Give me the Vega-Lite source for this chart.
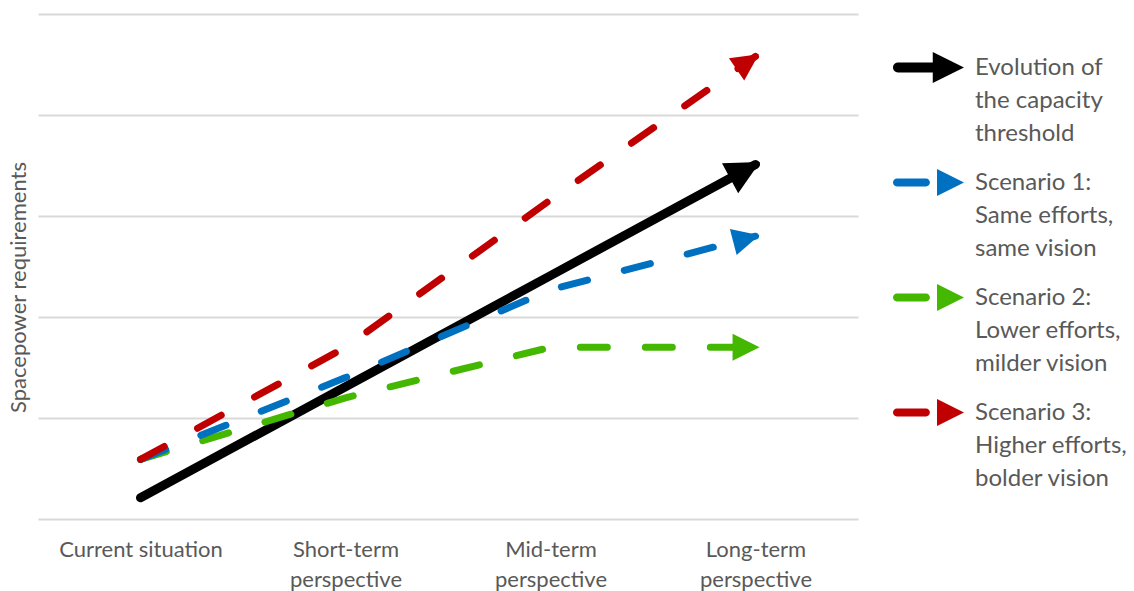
{
  "$schema": "https://vega.github.io/schema/vega-lite/v6.json",
  "width": 820,
  "height": 505,
  "autosize": {"type": "none"},
  "padding": {"left": 38, "top": 14, "right": 276, "bottom": 72},
  "background": "white",
  "config": {"view": {"stroke": null}, "font": "Lato"},
  "data": {
    "values": [
      {"series": "Evolution of the capacity threshold", "stage": "Current situation", "level": 0.21},
      {"series": "Evolution of the capacity threshold", "stage": "Short-term perspective", "level": 1.31},
      {"series": "Evolution of the capacity threshold", "stage": "Mid-term perspective", "level": 2.41},
      {"series": "Evolution of the capacity threshold", "stage": "Long-term perspective", "level": 3.51},
      {"series": "Scenario 2: Lower efforts, milder vision", "stage": "Current situation", "level": 0.59},
      {"series": "Scenario 2: Lower efforts, milder vision", "stage": "Short-term perspective", "level": 1.2},
      {"series": "Scenario 2: Lower efforts, milder vision", "stage": "Mid-term perspective", "level": 1.7},
      {"series": "Scenario 2: Lower efforts, milder vision", "stage": "Long-term perspective", "level": 1.7},
      {"series": "Scenario 1: Same efforts, same vision", "stage": "Current situation", "level": 0.59},
      {"series": "Scenario 1: Same efforts, same vision", "stage": "Short-term perspective", "level": 1.4},
      {"series": "Scenario 1: Same efforts, same vision", "stage": "Mid-term perspective", "level": 2.27},
      {"series": "Scenario 1: Same efforts, same vision", "stage": "Long-term perspective", "level": 2.8},
      {"series": "Scenario 3: Higher efforts, bolder vision", "stage": "Current situation", "level": 0.59},
      {"series": "Scenario 3: Higher efforts, bolder vision", "stage": "Short-term perspective", "level": 1.7},
      {"series": "Scenario 3: Higher efforts, bolder vision", "stage": "Mid-term perspective", "level": 3.16},
      {"series": "Scenario 3: Higher efforts, bolder vision", "stage": "Long-term perspective", "level": 4.58}
    ]
  },
  "encoding": {
    "x": {
      "field": "stage",
      "type": "ordinal",
      "sort": ["Current situation", "Short-term perspective", "Mid-term perspective", "Long-term perspective"],
      "scale": {"type": "point", "padding": 0.5},
      "axis": {
        "title": null,
        "domain": false,
        "ticks": false,
        "grid": false,
        "labelAngle": 0,
        "labelFont": "Lato",
        "labelFontSize": 22,
        "labelColor": "#595959",
        "labelPadding": 20,
        "labelBaseline": "top",
        "labelLineHeight": 30,
        "labelExpr": "datum.value == 'Current situation' ? datum.value : split(datum.value, ' ')"
      }
    },
    "y": {
      "field": "level",
      "type": "quantitative",
      "scale": {"domain": [0, 5], "nice": false, "zero": true},
      "axis": {
        "values": [0, 1, 2, 3, 4, 5],
        "labels": false,
        "ticks": false,
        "domain": false,
        "grid": true,
        "gridColor": "#D9D9D9",
        "gridWidth": 2,
        "title": "Spacepower requirements",
        "titleFont": "Lato",
        "titleFontSize": 22,
        "titleFontWeight": "normal",
        "titleColor": "#595959",
        "titleX": -20,
        "titleY": 273,
        "titleAngle": -90,
        "titleAlign": "center",
        "titleBaseline": "middle"
      }
    },
    "color": {
      "field": "series",
      "type": "nominal",
      "scale": {
        "domain": ["Evolution of the capacity threshold", "Scenario 1: Same efforts, same vision", "Scenario 2: Lower efforts, milder vision", "Scenario 3: Higher efforts, bolder vision"],
        "range": ["#000000", "#0070C0", "#44B700", "#C00000"]
      },
      "legend": null
    }
  },
  "layer": [
    {
      "transform": [{"filter": "datum.series == 'Evolution of the capacity threshold'"}],
      "mark": {"type": "line", "strokeWidth": 9, "strokeCap": "round"},
      "encoding": {
        "color": {
          "field": "series",
          "type": "nominal",
          "legend": {
            "orient": "none",
            "legendX": 855,
            "legendY": 18,
            "title": null,
            "symbolSize": 5041,
            "labelFont": "Lato",
            "labelFontSize": 24,
            "labelColor": "#595959",
            "labelLimit": 0,
            "labelOffset": 11,
            "rowPadding": 1,
            "labelExpr": "datum.label == 'Evolution of the capacity threshold' ? ['Evolution of', 'the capacity', 'threshold'] : datum.label == 'Scenario 1: Same efforts, same vision' ? ['Scenario 1:', 'Same efforts,', 'same vision'] : datum.label == 'Scenario 2: Lower efforts, milder vision' ? ['Scenario 2:', 'Lower efforts,', 'milder vision'] : ['Scenario 3:', 'Higher efforts,', 'bolder vision']",
            "encode": {
              "symbols": {
                "update": {
                  "shape": {"signal": "datum.value == 'Evolution of the capacity threshold' ? 'M -0.86 -0.14 L 0.15 -0.14 L 0.15 0.14 L -0.86 0.14 A 0.14 0.14 0 0 1 -0.86 -0.14 Z M 0.12 -0.44 L 1 0 L 0.12 0.44 Z' : 'M -0.89 -0.11 L -0.07 -0.11 A 0.11 0.11 0 0 1 -0.07 0.11 L -0.89 0.11 A 0.11 0.11 0 0 1 -0.89 -0.11 Z M 0.24 -0.38 L 1 0 L 0.24 0.38 Z'"},
                  "size": {"value": 5041},
                  "fill": {"scale": "color", "field": "value"},
                  "stroke": {"value": "transparent"},
                  "strokeWidth": {"value": 0},
                  "strokeDash": {"value": []},
                  "opacity": {"value": 1}
                }
              },
              "labels": {
                "update": {"lineHeight": {"value": 33}}
              }
            }
          }
        }
      }
    },
    {
      "transform": [{"filter": "datum.series != 'Evolution of the capacity threshold'"}],
      "mark": {"type": "line", "strokeWidth": 7, "strokeCap": "round", "strokeDash": [27, 38]}
    },
    {
      "transform": [{"filter": "datum.stage == 'Long-term perspective' && datum.series == 'Evolution of the capacity threshold'"}],
      "mark": {"type": "point", "filled": true, "opacity": 1, "strokeWidth": 0, "size": 1156, "angle": -28.5, "shape": "M 0.3 0 L -1.7 -1 L -1.7 1 Z"}
    },
    {
      "transform": [{"filter": "datum.stage == 'Long-term perspective' && datum.series == 'Scenario 1: Same efforts, same vision'"}],
      "mark": {"type": "point", "filled": true, "opacity": 1, "strokeWidth": 0, "size": 729, "angle": -14.5, "shape": "M 0.3 0 L -1.7 -1 L -1.7 1 Z"}
    },
    {
      "transform": [{"filter": "datum.stage == 'Long-term perspective' && datum.series == 'Scenario 2: Lower efforts, milder vision'"}],
      "mark": {"type": "point", "filled": true, "opacity": 1, "strokeWidth": 0, "size": 729, "angle": 0, "shape": "M 0.3 0 L -1.7 -1 L -1.7 1 Z"}
    },
    {
      "transform": [{"filter": "datum.stage == 'Long-term perspective' && datum.series == 'Scenario 3: Higher efforts, bolder vision'"}],
      "mark": {"type": "point", "filled": true, "opacity": 1, "strokeWidth": 0, "size": 729, "angle": -34.5, "shape": "M 0.3 0 L -1.7 -1 L -1.7 1 Z"}
    }
  ]
}
